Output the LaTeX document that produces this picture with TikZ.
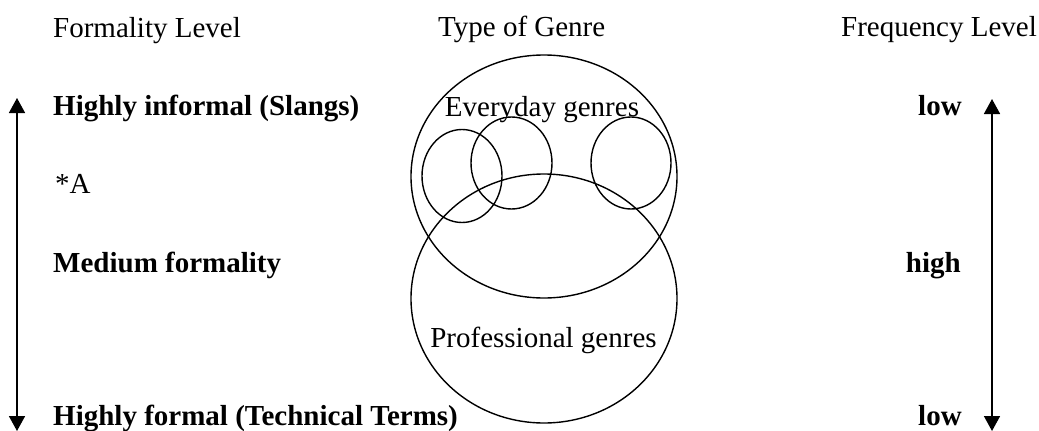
\documentclass[tikz,border=0pt]{standalone}
\usepackage{fontspec}
\setmainfont{Liberation Serif}
\usetikzlibrary{arrows.meta,shapes.geometric}
\begin{document}
\begin{tikzpicture}[x=1pt,y=-1pt,
  lbl/.style={inner sep=0pt,font=\fontsize{29}{34}\selectfont},
  blbl/.style={inner sep=0pt,font=\fontsize{29}{34}\selectfont\bfseries},
  ring/.style={draw,ellipse,line width=1.4pt,inner sep=0pt},
  scale arrow/.style={{Triangle[width=16pt,length=15pt]}-{Triangle[width=16pt,length=15pt]},line width=1.6pt}]
\useasboundingbox (0,0) rectangle (1039,431);
% headers
\node[lbl,anchor=base west] (h1) at (53,37) {Formality Level};
\node[lbl,anchor=base west] (h2) at (438,36) {Type of Genre};
\node[lbl,anchor=base east] (h3) at (1037,36) {Frequency Level};
% left labels
\node[blbl,anchor=base west] (l1) at (53,115) {Highly informal (Slangs)};
\node[lbl,anchor=base west] (l2) at (55,193) {*A};
\node[blbl,anchor=base west] (l3) at (53,272) {Medium formality};
\node[blbl,anchor=base west] (l4) at (53,425) {Highly formal (Technical Terms)};
% right labels
\node[blbl,anchor=base west] (r1) at (918,115) {low};
\node[blbl,anchor=base east] (r2) at (961,272) {high};
\node[blbl,anchor=base west] (r3) at (918,425) {low};
% ellipses
\node[ring,minimum width=266pt,minimum height=243pt] (every) at (544,176.5) {};
\node[ring,minimum width=266pt,minimum height=249pt] (prof) at (544,298.5) {};
\node[ring,minimum width=80pt,minimum height=93pt] (s1) at (462,176) {};
\node[ring,minimum width=81pt,minimum height=92pt] (s2) at (511.5,163) {};
\node[ring,minimum width=80pt,minimum height=92pt] (s3) at (631,163) {};
\node[lbl,anchor=base] (et) at (542,116) {Everyday genres};
\node[lbl,anchor=base] (pt) at (543.5,347) {Professional genres};
% arrows
\coordinate (lt) at (17,98);
\coordinate (lb) at (17,431);
\coordinate (rt) at (992,99);
\coordinate (rb) at (992,431);
\draw[scale arrow] (lb) -- (lt);
\draw[scale arrow] (rb) -- (rt);
\end{tikzpicture}
\end{document}
